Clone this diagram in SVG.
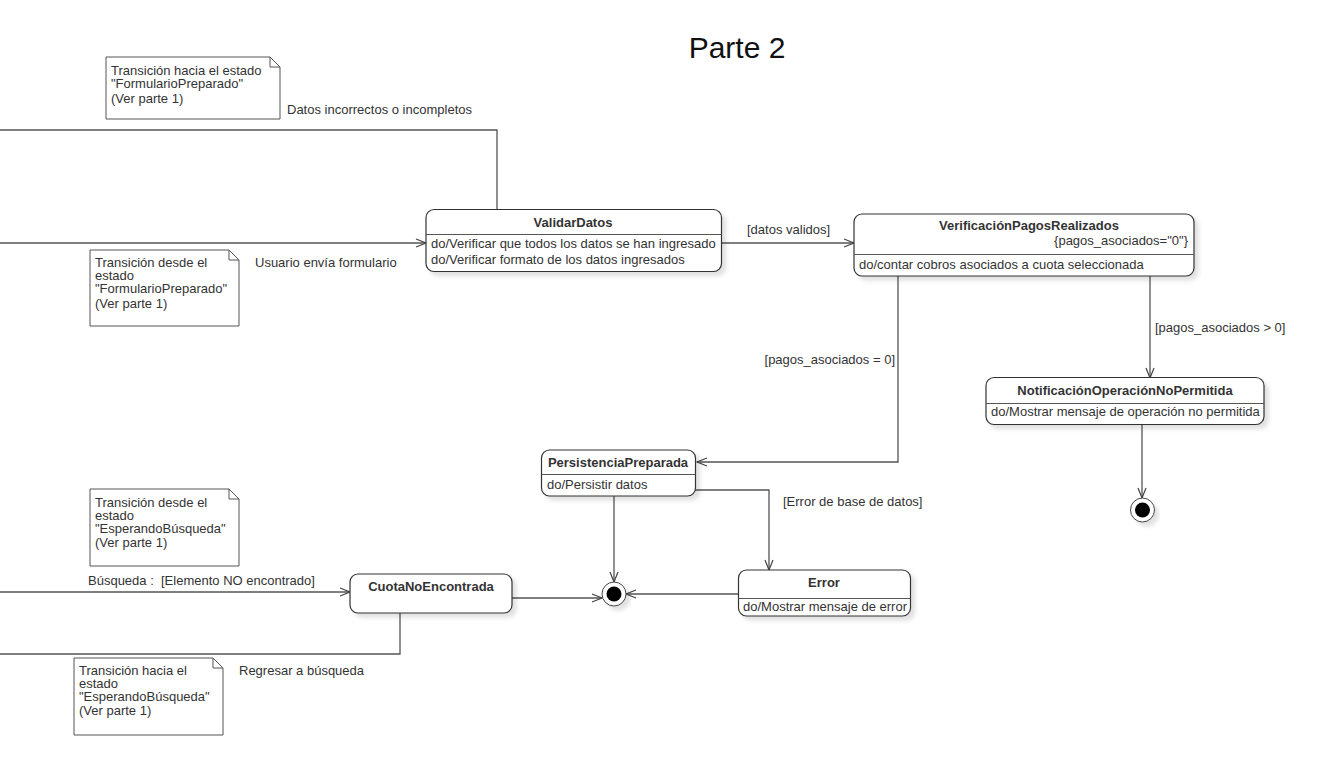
<svg xmlns="http://www.w3.org/2000/svg" width="1325" height="776" viewBox="0 0 1325 776">
<style>
text{font-family:"Liberation Sans",Arial,sans-serif;font-size:13px;fill:#333}
.t{font-weight:bold;text-anchor:middle}
.st{fill:#fff;stroke:#333;stroke-width:1.2}
.sep{stroke:#555;stroke-width:1}
.note{fill:#fff;stroke:#555;stroke-width:1}
.c{fill:none;stroke:#555;stroke-width:1.3}
</style>
<defs>
<marker id="a" markerWidth="12" markerHeight="10" refX="11" refY="5" orient="auto" markerUnits="userSpaceOnUse">
<path d="M1,1 L11,5 L1,9" fill="none" stroke="#444" stroke-width="1.2"/>
</marker>
<filter id="sh" x="-10%" y="-10%" width="130%" height="140%">
<feDropShadow dx="4" dy="4" stdDeviation="2" flood-color="#000" flood-opacity="0.12"/>
</filter>
</defs>
<rect width="1325" height="776" fill="#fff"/>
<text x="737" y="58" style="font-size:30px;text-anchor:middle;fill:#111">Parte 2</text>

<g id="connectors">
<polyline class="c" points="0,130 497,130 497,210"/>
<text x="287" y="114">Datos incorrectos o incompletos</text>
<line class="c" x1="0" y1="243" x2="426" y2="243" marker-end="url(#a)"/>
<text x="255" y="267">Usuario envía formulario</text>
<line class="c" x1="722" y1="243" x2="854" y2="243" marker-end="url(#a)"/>
<text x="747" y="234">[datos validos]</text>
<polyline class="c" points="898,276 898,462 697,462" marker-end="url(#a)"/>
<text x="895" y="364" style="text-anchor:end">[pagos_asociados = 0]</text>
<line class="c" x1="1150" y1="276" x2="1150" y2="378" marker-end="url(#a)"/>
<text x="1155" y="332">[pagos_asociados &gt; 0]</text>
<line class="c" x1="1142" y1="424" x2="1142" y2="498" marker-end="url(#a)"/>
<polyline class="c" points="695,490 769,490 769,570" marker-end="url(#a)"/>
<text x="783" y="506">[Error de base de datos]</text>
<line class="c" x1="614" y1="496" x2="614" y2="582" marker-end="url(#a)"/>
<line class="c" x1="738" y1="594" x2="626" y2="594" marker-end="url(#a)"/>
<line class="c" x1="512" y1="598" x2="602" y2="598" marker-end="url(#a)"/>
<line class="c" x1="0" y1="592" x2="350" y2="592" marker-end="url(#a)"/>
<text x="88" y="585" style="white-space:pre">Búsqueda :  [Elemento NO encontrado]</text>
<polyline class="c" points="400,613 400,654 0,654"/>
<text x="239" y="675">Regresar a búsqueda</text>
</g>

<g id="note1">
<path class="note" d="M106,57 H270 L280,67 V119 H106 Z M270,57 V67 H280"/>
<text x="111" y="75">Transición hacia el estado</text>
<text x="111" y="88">"FormularioPreparado"</text>
<text x="111" y="103">(Ver parte 1)</text>
</g>
<g id="note2">
<path class="note" d="M90,250 H229 L239,260 V326 H90 Z M229,250 V260 H239"/>
<text x="95" y="267">Transición desde el</text>
<text x="95" y="280">estado</text>
<text x="95" y="293">"FormularioPreparado"</text>
<text x="95" y="308">(Ver parte 1)</text>
</g>
<g id="note3">
<path class="note" d="M90,489 H229 L239,499 V566 H90 Z M229,489 V499 H239"/>
<text x="95" y="507">Transición desde el</text>
<text x="95" y="520">estado</text>
<text x="95" y="533">"EsperandoBúsqueda"</text>
<text x="95" y="547">(Ver parte 1)</text>
</g>
<g id="note4">
<path class="note" d="M74,658 H213 L223,668 V735 H74 Z M213,658 V668 H223"/>
<text x="79" y="675">Transición hacia el</text>
<text x="79" y="688">estado</text>
<text x="79" y="701">"EsperandoBúsqueda"</text>
<text x="79" y="715">(Ver parte 1)</text>
</g>

<g id="ValidarDatos">
<rect class="st" x="426" y="209.5" width="295.5" height="62" rx="8" filter="url(#sh)"/>
<line class="sep" x1="426" y1="234.5" x2="721.5" y2="234.5"/>
<text class="t" x="573" y="227">ValidarDatos</text>
<text x="431" y="248">do/Verificar que todos los datos se han ingresado</text>
<text x="431" y="264">do/Verificar formato de los datos ingresados</text>
</g>
<g id="VerificacionPagosRealizados">
<rect class="st" x="854" y="214" width="340" height="62" rx="8" filter="url(#sh)"/>
<line class="sep" x1="854" y1="254.5" x2="1194" y2="254.5"/>
<text class="t" x="1029" y="230">VerificaciónPagosRealizados</text>
<text x="1188" y="245" style="text-anchor:end">{pagos_asociados="0"}</text>
<text x="859" y="269">do/contar cobros asociados a cuota seleccionada</text>
</g>
<g id="NotificacionOperacionNoPermitida">
<rect class="st" x="986" y="377.5" width="278" height="47" rx="8" filter="url(#sh)"/>
<line class="sep" x1="986" y1="403.5" x2="1264" y2="403.5"/>
<text class="t" x="1125" y="395">NotificaciónOperaciónNoPermitida</text>
<text x="991" y="416">do/Mostrar mensaje de operación no permitida</text>
</g>
<g id="final1">
<circle cx="1142.5" cy="510" r="12" fill="#fff" stroke="#444" stroke-width="1" filter="url(#sh)"/>
<circle cx="1142.5" cy="510" r="7.5" fill="#000"/>
</g>
<g id="PersistenciaPreparada">
<rect class="st" x="541.5" y="450" width="154" height="46" rx="8" filter="url(#sh)"/>
<line class="sep" x1="541.5" y1="474.5" x2="695.5" y2="474.5"/>
<text class="t" x="618" y="467">PersistenciaPreparada</text>
<text x="547" y="489">do/Persistir datos</text>
</g>
<g id="final2">
<circle cx="614" cy="594" r="12" fill="#fff" stroke="#444" stroke-width="1" filter="url(#sh)"/>
<circle cx="614" cy="594" r="7.5" fill="#000"/>
</g>
<g id="Error">
<rect class="st" x="738.5" y="570" width="172" height="46" rx="8" filter="url(#sh)"/>
<line class="sep" x1="738.5" y1="598.5" x2="910.5" y2="598.5"/>
<text class="t" x="824" y="587">Error</text>
<text x="743" y="611">do/Mostrar mensaje de error</text>
</g>
<g id="CuotaNoEncontrada">
<rect class="st" x="350" y="574" width="162" height="39" rx="8" filter="url(#sh)"/>
<text class="t" x="431" y="591">CuotaNoEncontrada</text>
</g>
</svg>
